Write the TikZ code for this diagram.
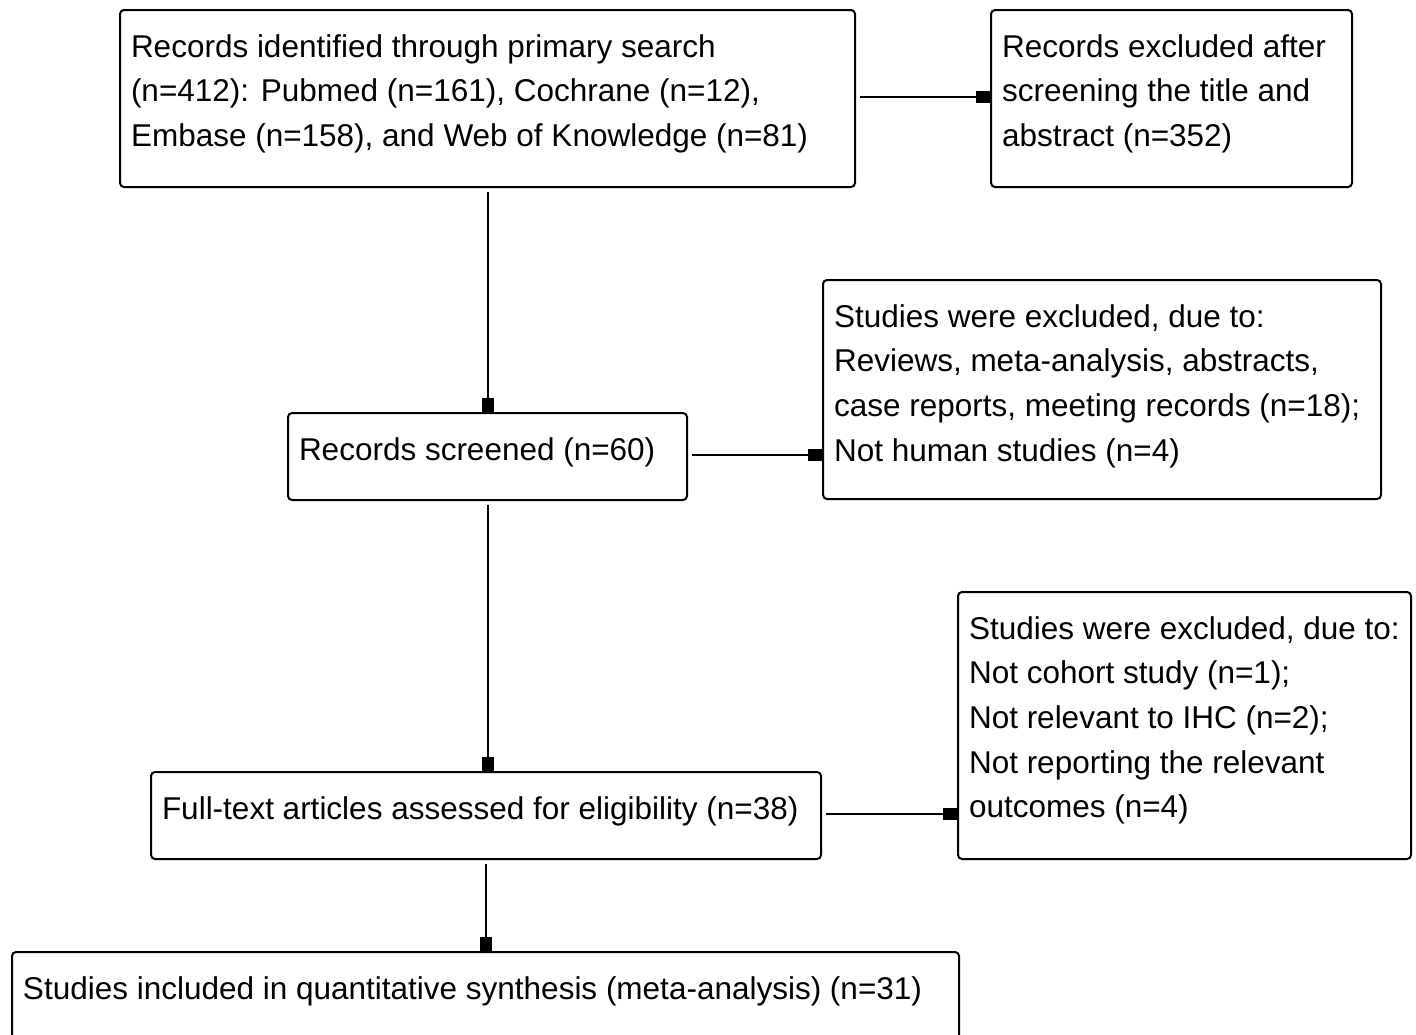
\documentclass[tikz,border=0pt]{standalone}
\usepackage{fontspec}
\setmainfont{Liberation Sans}
\usetikzlibrary{arrows.meta}
% caixa com texto no alto, a esquerda: largura, altura, linhas
\newcommand{\caixatexto}[3]{\parbox[t][#2][t]{#1}{\rule{0pt}{47pt}#3}}

\begin{document}
\begin{tikzpicture}[x=1pt, y=-1pt, line width=2pt,
	flowbox/.style={draw, rounded corners=4pt, anchor=north west, inner xsep=11pt, inner ysep=0pt,
		font=\fontsize{31.5}{44.7}\selectfont},
	flowarrow/.style={-{Square[length=14pt,width=12pt]}, shorten <=4pt}]
	\useasboundingbox[fill=white] (0,0) rectangle (1416,1034);

		% As caixas do fluxo principal
			\node[flowbox] (ident) at (119,9) {\caixatexto{713pt}{177pt}{%
				\mbox{Records identified through primary search}\\
				\mbox{(n=412): Pubmed (n=161), Cochrane (n=12),}\\
				\mbox{Embase (n=158), and Web of Knowledge (n=81)}}};
			\node[flowbox] (screen) at (287,412) {\caixatexto{377pt}{87pt}{%
				\mbox{Records screened (n=60)}}};
			\node[flowbox] (full) at (150,771) {\caixatexto{648pt}{87pt}{%
				\mbox{Full-text articles assessed for eligibility (n=38)}}};
			\node[flowbox] (incl) at (11,951) {\caixatexto{925pt}{100pt}{%
				\mbox{Studies included in quantitative synthesis (meta-analysis) (n=31)}}};

		% As caixas dos excluidos
			\node[flowbox] (excl1) at (990,9) {\caixatexto{339pt}{177pt}{%
				\mbox{Records excluded after}\\
				\mbox{screening the title and}\\
				\mbox{abstract (n=352)}}};
			\node[flowbox] (excl2) at (822,279) {\caixatexto{536pt}{219pt}{%
				\mbox{Studies were excluded, due to:}\\
				\mbox{Reviews, meta-analysis, abstracts,}\\
				\mbox{case reports, meeting records (n=18);}\\
				\mbox{Not human studies (n=4)}}};
			\node[flowbox] (excl3) at (957,591) {\caixatexto{431pt}{267pt}{%
				\mbox{Studies were excluded, due to:}\\
				\mbox{Not cohort study (n=1);}\\
				\mbox{Not relevant to IHC (n=2);}\\
				\mbox{Not reporting the relevant}\\
				\mbox{outcomes (n=4)}}};

		% As setas
			\draw[flowarrow] (ident.south) -- (ident.south |- screen.north);
			\draw[flowarrow] (screen.south) -- (screen.south |- full.north);
			\draw[flowarrow] (full.south) -- (full.south |- incl.north);
			\draw[flowarrow] ([yshift=1.5pt]ident.east) -- ([yshift=1.5pt]ident.east -| excl1.west);
			\draw[flowarrow] ([yshift=1.5pt]screen.east) -- ([yshift=1.5pt]screen.east -| excl2.west);
			\draw[flowarrow] ([yshift=1.5pt]full.east) -- ([yshift=1.5pt]full.east -| excl3.west);
\end{tikzpicture}
\end{document}
